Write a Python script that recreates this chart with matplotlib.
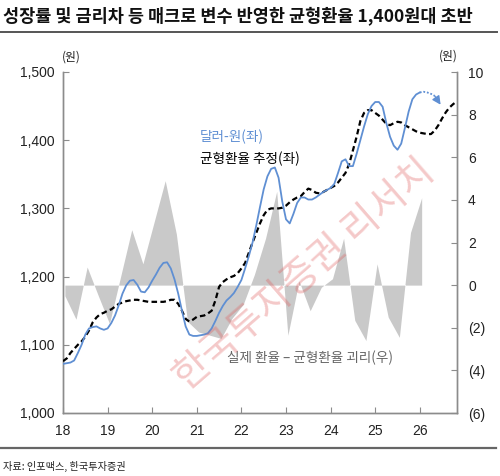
import matplotlib
matplotlib.use("Agg")
import matplotlib.pyplot as plt
import numpy as np
from matplotlib.lines import Line2D

plt.rcParams['font.family'] = ['Noto Sans CJK KR', 'DejaVu Sans']

# ---------------- data ----------------
title = "성장률 및 금리차 등 매크로 변수 반영한 균형환율 1,400원대 초반"
source = "자료: 인포맥스, 한국투자증권"
label_usd = "달러-원(좌)"
label_eq = "균형환율 추정(좌)"
label_gap = "실제 환율 – 균형환율 괴리(우)"
watermark = "한국투자증권 리서치"

start_year = 18  # monthly series start Jan 2018

usdkrw = [1072, 1073, 1074, 1077, 1088, 1100, 1115, 1124, 1126, 1127, 1124, 1122,
          1124, 1132, 1143, 1158, 1175, 1187, 1194, 1195, 1188, 1178, 1177, 1184,
          1194, 1203, 1213, 1220, 1221, 1212, 1196, 1175, 1150, 1127, 1115, 1113,
          1113, 1114, 1115, 1117, 1124, 1135, 1147, 1157, 1165, 1170, 1176, 1185,
          1195, 1212, 1230, 1250, 1275, 1302, 1328, 1347, 1358, 1360, 1345, 1310,
          1284, 1278, 1292, 1308, 1316, 1316, 1313, 1313, 1316, 1320, 1324, 1327,
          1330, 1336, 1352, 1369, 1372, 1362, 1362, 1380, 1400, 1420, 1438, 1450,
          1456, 1456, 1449, 1425, 1405, 1392, 1386, 1395, 1418, 1442, 1460, 1467,
          1470]
usdkrw_fcst = [1470, 1471, 1470, 1468, 1465]   # dotted path, months 96..100
usdkrw_arrow_end = 1452                          # arrow tip, month 101.5

equilibrium = [1076, 1080, 1088, 1094, 1100, 1105, 1112, 1121, 1133, 1140, 1145, 1147,
               1150, 1152, 1156, 1160, 1162, 1164, 1165, 1166, 1166, 1165, 1164, 1163,
               1163, 1163, 1163, 1163, 1164, 1166, 1166, 1160, 1150, 1138, 1134, 1137,
               1141, 1142, 1143, 1146, 1150, 1165, 1185, 1192, 1196, 1199, 1201, 1205,
               1212, 1220, 1235, 1250, 1264, 1278, 1290, 1298, 1300, 1300, 1300, 1301,
               1304, 1309, 1313, 1316, 1318, 1324, 1329, 1327, 1323, 1322, 1324, 1327,
               1330, 1333, 1338, 1345, 1352, 1365, 1385, 1405, 1428, 1440, 1444, 1444,
               1440, 1436, 1430, 1424, 1422, 1425, 1427, 1426, 1422, 1419, 1416, 1413,
               1411, 1410, 1409, 1409, 1414, 1422, 1432, 1441, 1448, 1453, 1457]

# quarterly gap (actual - equilibrium), right axis
gap = [-0.5, -1.6, 0.85, -0.5, -1.8, 0.4, 2.6, 1.0, 2.95, 4.9, 2.4, -1.7,
       -2.2, -2.35, -2.5, -1.55, -0.9, 0.5, 2.2, 4.4, -2.35, 0.2, -1.2, -0.1,
       0.3, 2.2, -1.65, -2.6, 1.0, -1.5, -2.45, 2.47, 4.1]

x_ticks = [18, 19, 20, 21, 22, 23, 24, 25, 26]
left_ticks = [1000, 1100, 1200, 1300, 1400, 1500]
left_ticklabels = ["1,000", "1,100", "1,200", "1,300", "1,400", "1,500"]
right_ticks = [-6, -4, -2, 0, 2, 4, 6, 8, 10]
right_ticklabels = ["(6)", "(4)", "(2)", "0", "2", "4", "6", "8", "10"]

# ---------------- styling ----------------
BLUE = '#5f8fd3'
GRAY_FILL = '#c9c9c9'
SPINE = '#8c8c8c'
TXT = '#222222'
NUMFONT = ['Liberation Sans', 'DejaVu Sans']

W, H = 500, 476
fig = plt.figure(figsize=(W / 100, H / 100), dpi=100)
ax = fig.add_axes([63 / W, 1 - 413 / H, (457 - 63) / W, (413 - 72) / H])
ax2 = ax.twinx()

ax.set_zorder(2)
ax2.set_zorder(1)
ax.patch.set_visible(False)

# gap area on right axis
xq = start_year + (np.arange(len(gap)) * 3 + 0.5) / 12
gap_arr = np.array(gap)
ax2.fill_between(xq, 0, gap_arr, color=GRAY_FILL, linewidth=0)
ax2.set_ylim(-6, 10)

# lines on left axis
xm_usd = start_year + np.arange(len(usdkrw)) / 12
xm_eq = start_year + np.arange(len(equilibrium)) / 12
ax.plot(xm_eq, equilibrium, color='black', lw=1.6, ls=(0, (2.5, 1.5)), zorder=3)
ax.plot(xm_usd, usdkrw, color=BLUE, lw=1.3, zorder=4)
xf = start_year + (96 + np.arange(len(usdkrw_fcst))) / 12
ax.plot(xf, usdkrw_fcst, color=BLUE, lw=1.3, ls=(0, (1, 1)), zorder=4)
ax.annotate('', xy=(start_year + 101.6 / 12, usdkrw_arrow_end),
            xytext=(xf[-1], usdkrw_fcst[-1]),
            arrowprops=dict(arrowstyle='-|>,head_length=0.5,head_width=0.25',
                            color=BLUE, lw=1.0, shrinkA=0, shrinkB=0), zorder=4)

ax.set_xlim(18, 18 + (457 - 63) / 44.6)
ax.set_ylim(1000, 1500)

# spines & ticks
for a in (ax, ax2):
    a.spines['top'].set_visible(False)
    for s in ('left', 'right', 'bottom'):
        a.spines[s].set_color(SPINE)
        a.spines[s].set_linewidth(1.0)

ax.set_xticks(x_ticks)
ax.set_xticklabels([str(t) for t in x_ticks], fontfamily=NUMFONT, fontsize=10, color=TXT)
ax.set_yticks(left_ticks)
ax.set_yticklabels(left_ticklabels, fontfamily=NUMFONT, fontsize=10, color=TXT)
ax.tick_params(axis='both', direction='in', length=4, width=0.8, color=SPINE, pad=6)
ax.tick_params(axis='x', pad=8)

ax2.set_yticks(right_ticks)
ax2.set_yticklabels(right_ticklabels, fontfamily=NUMFONT, fontsize=10, color=TXT)
ax2.tick_params(axis='y', direction='in', length=4, width=0.8, color=SPINE, pad=8)

# unit labels
fig.text(71 / W, 1 - 57 / H, "(원)", fontsize=8.5, color=TXT, ha='center', va='center')
fig.text(448 / W, 1 - 56 / H, "(원)", fontsize=8.5, color=TXT, ha='center', va='center')

# series labels
ax.text(21.07, 1404.5, label_usd, color=BLUE, fontsize=9.8, ha='left', va='center', zorder=5)
ax.text(21.07, 1372.5, label_eq, color='black', fontsize=9.8, ha='left', va='center', zorder=5)
ax.text(21.68, 1080.5, label_gap, color='#666666', fontsize=9.8, ha='left', va='center', zorder=5)

# title, rules, source
fig.text(3 / W, 1 - 16 / H, title, fontsize=12.6, fontweight='bold', color='#111111',
         ha='left', va='center')
fig.add_artist(Line2D([0, 497 / W], [1 - 32 / H, 1 - 32 / H], color='#555555', lw=1.4))
fig.add_artist(Line2D([0, 496 / W], [1 - 448 / H, 1 - 448 / H], color='#666666', lw=1.6))
fig.text(3 / W, 1 - 466 / H, source, fontsize=7.3, color='#222222', ha='left', va='center')

# watermark
fig.text(305 / W, 1 - 275 / H, watermark, fontsize=28, color='#e05a5a', alpha=0.33,
         rotation=41, ha='center', va='center', zorder=10)

fig.savefig('out.png', dpi=100)
